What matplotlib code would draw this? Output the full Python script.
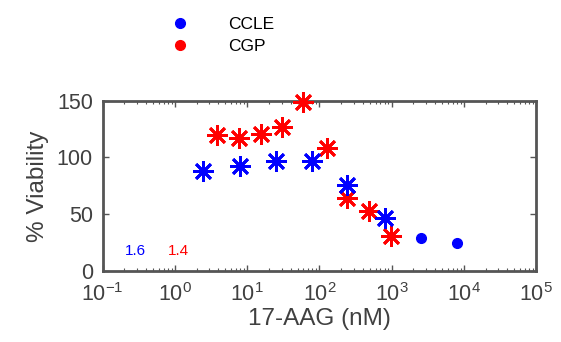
import numpy as np
import matplotlib
matplotlib.use('Agg')
import matplotlib.pyplot as plt
from matplotlib.lines import Line2D
from matplotlib.ticker import LogLocator, FixedLocator

plt.rcParams['font.family'] = ['Liberation Sans', 'DejaVu Sans']
plt.rcParams['mathtext.fontset'] = 'custom'
plt.rcParams['mathtext.rm'] = 'Liberation Sans'
plt.rcParams['axes.unicode_minus'] = False

# CCLE dose-response (nM, % viability)
ccle_dose = [2.47, 7.97, 25.1, 78.5, 244, 813]
ccle_viab = [88.1, 92.8, 96.9, 96.9, 75.8, 46.4]
ccle_extra_dose = [2560, 8150]
ccle_extra_viab = [28.8, 24.9]

# CGP dose-response
cgp_dose = [3.79, 7.80, 15.4, 30.1, 60.0, 127, 244, 493, 975]
cgp_viab = [119.8, 117.4, 120.4, 127.1, 149.1, 108.6, 64.0, 53.1, 30.8]

ccle_label = '1.6'
cgp_label = '1.4'

fig = plt.figure(figsize=(5.61, 3.42), dpi=100)
ax = fig.add_axes([0.1831, 0.2076, 0.7724, 0.498])

star = (8, 2, 0)
ax.plot(cgp_dose, cgp_viab, linestyle='none', marker=star, color='red',
        markersize=15, markeredgewidth=2, clip_on=False, zorder=3)
ax.plot(ccle_dose, ccle_viab, linestyle='none', marker=star, color='blue',
        markersize=15, markeredgewidth=2, clip_on=False, zorder=3)
ax.plot(ccle_extra_dose, ccle_extra_viab, linestyle='none', marker='o',
        color='blue', markersize=7, zorder=3)

ax.text(0.284, 18, ccle_label, color='blue', fontsize=11, ha='center', va='center')
ax.text(1.11, 18, cgp_label, color='red', fontsize=11, ha='center', va='center')

ax.set_xscale('log')
ax.set_xlim(1e-1, 1e5)
ax.set_ylim(0, 150)
ax.xaxis.set_major_locator(LogLocator(base=10, numticks=10))
ax.xaxis.set_minor_locator(LogLocator(base=10, subs=np.arange(2, 10), numticks=10))
ax.yaxis.set_major_locator(FixedLocator([0, 50, 100, 150]))

for s in ax.spines.values():
    s.set_color('#555555')
    s.set_linewidth(2)

ax.tick_params(which='both', direction='in', top=True, right=True,
               colors='#555555', labelcolor='#404040', labelsize=15.5)
ax.tick_params(which='major', length=4, width=1)
ax.tick_params(which='minor', length=2, width=0.8)
ax.tick_params(axis='y', pad=7)
ax.tick_params(axis='x', pad=9)

ax.set_xlabel('17-AAG (nM)', fontsize=17.5, color='#404040', labelpad=1)
ax.set_ylabel('% Viability', fontsize=17.5, color='#404040', labelpad=6)

handles = [Line2D([], [], linestyle='none', marker='o', color='blue', markersize=7),
           Line2D([], [], linestyle='none', marker='o', color='red', markersize=7)]
fig.legend(handles, ['CCLE', 'CGP'], loc='upper left',
           bbox_to_anchor=(163 / 561, 1 - 17 / 342), frameon=False,
           fontsize=12.5, handlelength=2, handletextpad=1.75,
           labelspacing=0.4, borderpad=0, borderaxespad=0)

fig.savefig('out.png', dpi=100)
